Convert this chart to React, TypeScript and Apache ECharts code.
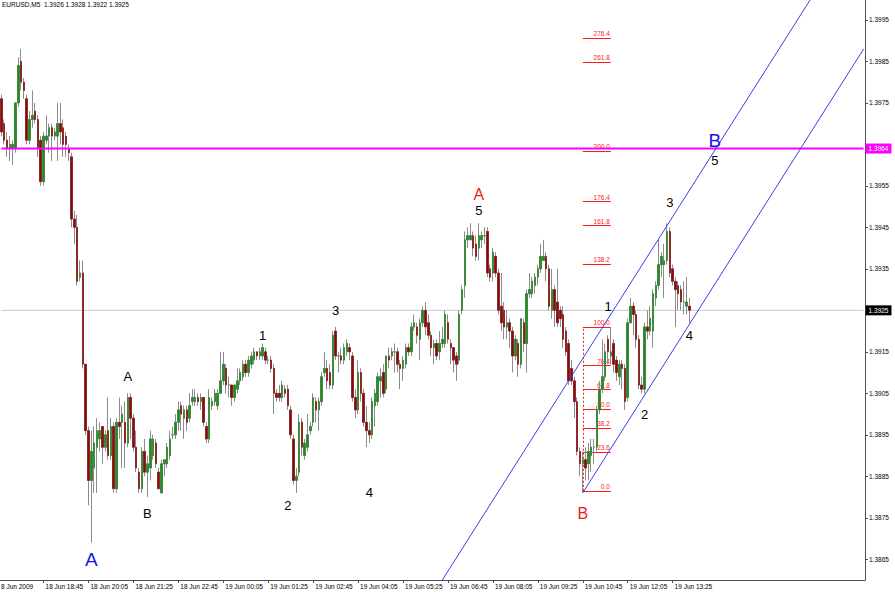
import React, { useEffect, useRef } from "react";
import * as echarts from "echarts";

// ---------- data ----------
const symbolName = "EURUSD,M5";
const firstDateLabel = "8 Jun 2009";
const startDay = 18;
const startMinute = 17 * 60 + 30; // first bar 18 Jun 17:30
const barMinutes = 5;
const totalSlots = 308; // bars + empty right shift area
const firstLabeledBar = 15;
const labelEvery = 16;
const lastLabeledBar = 239;

// candles: [open, high, low, close]
const candles: number[][] = [
  [1.3976, 1.3977, 1.3967, 1.3968], [1.3970, 1.3971, 1.3965, 1.3966], [1.3966, 1.3968, 1.3962, 1.3964],
  [1.3964, 1.3967, 1.3961, 1.3965], [1.3964, 1.3966, 1.3960, 1.3965], [1.3964, 1.3975, 1.3963, 1.3975],
  [1.3975, 1.3986, 1.3974, 1.3984], [1.3985, 1.3988, 1.3978, 1.3980], [1.3980, 1.3981, 1.3976, 1.3978],
  [1.3976, 1.3977, 1.3965, 1.3966], [1.3966, 1.3973, 1.3965, 1.3971], [1.3971, 1.3978, 1.3969, 1.3972],
  [1.3973, 1.3975, 1.3970, 1.3971], [1.3971, 1.3972, 1.3962, 1.3964], [1.3966, 1.3967, 1.3955, 1.3956],
  [1.3956, 1.3968, 1.3955, 1.3967], [1.3966, 1.3972, 1.3965, 1.3967], [1.3967, 1.3970, 1.3963, 1.3969],
  [1.3969, 1.3970, 1.3961, 1.3967], [1.3967, 1.3969, 1.3966, 1.3968], [1.3967, 1.3975, 1.3961, 1.3970],
  [1.3970, 1.3975, 1.3965, 1.3968], [1.3969, 1.3971, 1.3962, 1.3965], [1.3967, 1.3968, 1.3962, 1.3965],
  [1.3964, 1.3965, 1.3961, 1.3963], [1.3962, 1.3963, 1.3945, 1.3947], [1.3947, 1.3949, 1.3941, 1.3945],
  [1.3945, 1.3948, 1.3931, 1.3932], [1.3933, 1.3937, 1.3932, 1.3934], [1.3934, 1.3937, 1.3911, 1.3912],
  [1.3912, 1.3912, 1.3895, 1.3896], [1.3896, 1.3897, 1.3878, 1.3884], [1.3884, 1.3896, 1.3869, 1.3891],
  [1.3887, 1.3897, 1.3881, 1.3893], [1.3892, 1.3899, 1.3881, 1.3896], [1.3894, 1.3898, 1.3891, 1.3896],
  [1.3897, 1.3897, 1.3888, 1.3892], [1.3892, 1.3896, 1.3891, 1.3895], [1.3896, 1.3904, 1.3889, 1.3890],
  [1.3890, 1.3899, 1.3889, 1.3897], [1.3897, 1.3898, 1.3881, 1.3882], [1.3882, 1.3899, 1.3881, 1.3898],
  [1.3898, 1.3904, 1.3894, 1.3897], [1.3898, 1.3902, 1.3887, 1.3900], [1.3898, 1.3903, 1.3887, 1.3893],
  [1.3893, 1.3905, 1.3892, 1.3904], [1.3904, 1.3905, 1.3894, 1.3899], [1.3899, 1.3900, 1.3891, 1.3892],
  [1.3892, 1.3896, 1.3886, 1.3887], [1.3886, 1.3887, 1.3881, 1.3882], [1.3882, 1.3892, 1.3881, 1.3891],
  [1.3891, 1.3894, 1.3885, 1.3886], [1.3886, 1.3890, 1.3880, 1.3888], [1.3887, 1.3896, 1.3884, 1.3894],
  [1.3890, 1.3895, 1.3889, 1.3894], [1.3893, 1.3894, 1.3887, 1.3888], [1.3886, 1.3887, 1.3882, 1.3882],
  [1.3881, 1.3889, 1.3881, 1.3888], [1.3888, 1.3889, 1.3885, 1.3889], [1.3888, 1.3893, 1.3887, 1.3892],
  [1.3890, 1.3896, 1.3889, 1.3894], [1.3895, 1.3897, 1.3894, 1.3895], [1.3895, 1.3900, 1.3894, 1.3898],
  [1.3898, 1.3903, 1.3896, 1.3901], [1.3902, 1.3903, 1.3896, 1.3900], [1.3899, 1.3902, 1.3894, 1.3901],
  [1.3901, 1.3902, 1.3896, 1.3898], [1.3899, 1.3905, 1.3898, 1.3902], [1.3903, 1.3906, 1.3902, 1.3904],
  [1.3903, 1.3906, 1.3902, 1.3904], [1.3904, 1.3905, 1.3902, 1.3903], [1.3903, 1.3905, 1.3901, 1.3904],
  [1.3904, 1.3904, 1.3897, 1.3898], [1.3897, 1.3898, 1.3893, 1.3894], [1.3894, 1.3906, 1.3893, 1.3904],
  [1.3902, 1.3904, 1.3901, 1.3903], [1.3903, 1.3906, 1.3902, 1.3905], [1.3902, 1.3906, 1.3901, 1.3905],
  [1.3905, 1.3915, 1.3905, 1.3908], [1.3908, 1.3915, 1.3907, 1.3912], [1.3911, 1.3912, 1.3905, 1.3907],
  [1.3907, 1.3909, 1.3904, 1.3907], [1.3907, 1.3907, 1.3902, 1.3904], [1.3904, 1.3907, 1.3903, 1.3907],
  [1.3906, 1.3911, 1.3905, 1.3908], [1.3908, 1.3911, 1.3907, 1.3910], [1.3909, 1.3913, 1.3908, 1.3912],
  [1.3912, 1.3913, 1.3909, 1.3910], [1.3910, 1.3914, 1.3909, 1.3913], [1.3912, 1.3915, 1.3911, 1.3914],
  [1.3913, 1.3916, 1.3912, 1.3915], [1.3915, 1.3915, 1.3913, 1.3914], [1.3914, 1.3916, 1.3913, 1.3915],
  [1.3914, 1.3917, 1.3913, 1.3916], [1.3915, 1.3916, 1.3912, 1.3913], [1.3913, 1.3914, 1.3912, 1.3913],
  [1.3913, 1.3914, 1.3910, 1.3911], [1.3911, 1.3912, 1.3900, 1.3905], [1.3905, 1.3906, 1.3903, 1.3904],
  [1.3905, 1.3907, 1.3903, 1.3904], [1.3904, 1.3908, 1.3903, 1.3907], [1.3906, 1.3907, 1.3904, 1.3905],
  [1.3906, 1.3907, 1.3901, 1.3902], [1.3901, 1.3902, 1.3894, 1.3895], [1.3894, 1.3895, 1.3883, 1.3884],
  [1.3884, 1.3887, 1.3881, 1.3885], [1.3886, 1.3900, 1.3885, 1.3898], [1.3898, 1.3899, 1.3890, 1.3892],
  [1.3890, 1.3894, 1.3889, 1.3893], [1.3892, 1.3900, 1.3891, 1.3895], [1.3896, 1.3898, 1.3895, 1.3897],
  [1.3898, 1.3905, 1.3897, 1.3904], [1.3903, 1.3904, 1.3898, 1.3901], [1.3901, 1.3904, 1.3896, 1.3903],
  [1.3903, 1.3910, 1.3902, 1.3909], [1.3910, 1.3915, 1.3909, 1.3911], [1.3911, 1.3913, 1.3906, 1.3908],
  [1.3910, 1.3912, 1.3906, 1.3907], [1.3907, 1.3920, 1.3906, 1.3919], [1.3920, 1.3921, 1.3913, 1.3914],
  [1.3914, 1.3915, 1.3910, 1.3914], [1.3914, 1.3916, 1.3912, 1.3913], [1.3913, 1.3917, 1.3912, 1.3916],
  [1.3915, 1.3918, 1.3914, 1.3917], [1.3916, 1.3917, 1.3913, 1.3915], [1.3914, 1.3915, 1.3903, 1.3904],
  [1.3904, 1.3906, 1.3899, 1.3901], [1.3901, 1.3913, 1.3900, 1.3910], [1.3910, 1.3911, 1.3903, 1.3905],
  [1.3905, 1.3906, 1.3897, 1.3898], [1.3898, 1.3902, 1.3892, 1.3896], [1.3896, 1.3898, 1.3893, 1.3895],
  [1.3895, 1.3904, 1.3894, 1.3903], [1.3902, 1.3906, 1.3897, 1.3905], [1.3903, 1.3910, 1.3902, 1.3909],
  [1.3908, 1.3911, 1.3904, 1.3909], [1.3910, 1.3912, 1.3904, 1.3905], [1.3906, 1.3914, 1.3905, 1.3914],
  [1.3914, 1.3916, 1.3911, 1.3913], [1.3914, 1.3916, 1.3913, 1.3915], [1.3915, 1.3917, 1.3910, 1.3915],
  [1.3915, 1.3916, 1.3910, 1.3912], [1.3912, 1.3913, 1.3906, 1.3911], [1.3911, 1.3914, 1.3908, 1.3913],
  [1.3912, 1.3917, 1.3911, 1.3916], [1.3916, 1.3917, 1.3914, 1.3915], [1.3915, 1.3922, 1.3914, 1.3921],
  [1.3921, 1.3924, 1.3920, 1.3922], [1.3921, 1.3922, 1.3917, 1.3919], [1.3918, 1.3923, 1.3913, 1.3922],
  [1.3922, 1.3926, 1.3921, 1.3925], [1.3925, 1.3927, 1.3919, 1.3921], [1.3922, 1.3924, 1.3918, 1.3919],
  [1.3919, 1.3920, 1.3914, 1.3916], [1.3916, 1.3918, 1.3912, 1.3917], [1.3917, 1.3918, 1.3913, 1.3914],
  [1.3915, 1.3920, 1.3913, 1.3917], [1.3917, 1.3921, 1.3916, 1.3918], [1.3917, 1.3925, 1.3916, 1.3924],
  [1.3922, 1.3924, 1.3917, 1.3918], [1.3917, 1.3918, 1.3912, 1.3916], [1.3916, 1.3916, 1.3910, 1.3913],
  [1.3914, 1.3915, 1.3908, 1.3912], [1.3913, 1.3925, 1.3912, 1.3924], [1.3925, 1.3931, 1.3924, 1.3930],
  [1.3931, 1.3944, 1.3928, 1.3942], [1.3942, 1.3945, 1.3940, 1.3943], [1.3942, 1.3946, 1.3942, 1.3943],
  [1.3943, 1.3944, 1.3938, 1.3940], [1.3941, 1.3943, 1.3937, 1.3938], [1.3940, 1.3946, 1.3937, 1.3943],
  [1.3942, 1.3944, 1.3940, 1.3943], [1.3943, 1.3945, 1.3941, 1.3943], [1.3944, 1.3945, 1.3933, 1.3934],
  [1.3935, 1.3936, 1.3932, 1.3933], [1.3934, 1.3940, 1.3932, 1.3939], [1.3938, 1.3939, 1.3933, 1.3934],
  [1.3934, 1.3935, 1.3924, 1.3925], [1.3926, 1.3934, 1.3920, 1.3922], [1.3925, 1.3927, 1.3918, 1.3921],
  [1.3921, 1.3925, 1.3918, 1.3922], [1.3922, 1.3923, 1.3916, 1.3920], [1.3920, 1.3921, 1.3910, 1.3914],
  [1.3914, 1.3919, 1.3913, 1.3918], [1.3917, 1.3918, 1.3909, 1.3912], [1.3912, 1.3923, 1.3911, 1.3923],
  [1.3922, 1.3923, 1.3915, 1.3917], [1.3917, 1.3930, 1.3910, 1.3929], [1.3929, 1.3934, 1.3928, 1.3930],
  [1.3929, 1.3933, 1.3928, 1.3932], [1.3931, 1.3934, 1.3929, 1.3933], [1.3933, 1.3936, 1.3931, 1.3935],
  [1.3935, 1.3941, 1.3934, 1.3938], [1.3937, 1.3942, 1.3937, 1.3938], [1.3938, 1.3939, 1.3932, 1.3935],
  [1.3935, 1.3936, 1.3925, 1.3926], [1.3925, 1.3935, 1.3923, 1.3930], [1.3930, 1.3931, 1.3921, 1.3925],
  [1.3927, 1.3935, 1.3921, 1.3922], [1.3925, 1.3926, 1.3921, 1.3923], [1.3924, 1.3926, 1.3916, 1.3918],
  [1.3920, 1.3921, 1.3914, 1.3915], [1.3917, 1.3918, 1.3907, 1.3908], [1.3911, 1.3913, 1.3907, 1.3908],
  [1.3908, 1.3909, 1.3899, 1.3903], [1.3903, 1.3904, 1.3890, 1.3891], [1.3891, 1.3892, 1.3885, 1.3888],
  [1.3888, 1.3891, 1.3881, 1.3889], [1.3889, 1.3892, 1.3884, 1.3887], [1.3888, 1.3893, 1.3884, 1.3891],
  [1.3890, 1.3894, 1.3886, 1.3892], [1.3892, 1.3894, 1.3888, 1.3892], [1.3892, 1.3902, 1.3891, 1.3901],
  [1.3901, 1.3908, 1.3900, 1.3906], [1.3906, 1.3918, 1.3905, 1.3909], [1.3909, 1.3917, 1.3908, 1.3915],
  [1.3918, 1.3919, 1.3912, 1.3915], [1.3914, 1.3921, 1.3912, 1.3915], [1.3917, 1.3918, 1.3910, 1.3912],
  [1.3913, 1.3914, 1.3908, 1.3910], [1.3909, 1.3913, 1.3907, 1.3912], [1.3912, 1.3913, 1.3906, 1.3911],
  [1.3911, 1.3912, 1.3901, 1.3903], [1.3904, 1.3923, 1.3903, 1.3922], [1.3922, 1.3928, 1.3922, 1.3926],
  [1.3926, 1.3927, 1.3919, 1.3924], [1.3924, 1.3925, 1.3916, 1.3918], [1.3918, 1.3919, 1.3906, 1.3907],
  [1.3907, 1.3909, 1.3905, 1.3906], [1.3906, 1.3922, 1.3905, 1.3921], [1.3921, 1.3925, 1.3918, 1.3920],
  [1.3920, 1.3926, 1.3919, 1.3923], [1.3920, 1.3930, 1.3916, 1.3929], [1.3928, 1.3932, 1.3926, 1.3931],
  [1.3931, 1.3942, 1.3930, 1.3936], [1.3936, 1.3939, 1.3933, 1.3938], [1.3936, 1.3941, 1.3928, 1.3937],
  [1.3937, 1.3946, 1.3936, 1.3944], [1.3944, 1.3945, 1.3933, 1.3934], [1.3935, 1.3936, 1.3931, 1.3932],
  [1.3932, 1.3933, 1.3921, 1.3930], [1.3931, 1.3932, 1.3925, 1.3929], [1.3930, 1.3931, 1.3925, 1.3927],
  [1.3927, 1.3932, 1.3924, 1.3927], [1.3926, 1.3933, 1.3924, 1.3927], [1.3926, 1.3928, 1.3922, 1.3925],
];

const yTickValues = [1.3865, 1.3875, 1.3885, 1.3895, 1.3905, 1.3915, 1.3925, 1.3935, 1.3945, 1.3955, 1.3965, 1.3975, 1.3985, 1.3995];
const yLabelValues = [1.3865, 1.3875, 1.3885, 1.3895, 1.3905, 1.3915, 1.3935, 1.3945, 1.3955, 1.3975, 1.3985, 1.3995];
const yMin = 1.386;
const yMax = 1.39998;

const resistanceLevel = 1.3964;

// Fibonacci retracement/extension (ratio of the 0..100 swing, shown label)
const fibLow = 1.38815;
const fibHigh = 1.3921;
const fibStartBar = 207;
const fibEndBar = 217;
const fibRatios = [0, 0.236, 0.382, 0.5, 0.618, 0.764, 1.0, 1.382, 1.618, 1.764, 2.073, 2.618, 2.764];
const fibLabels = ["0.0", "23.6", "38.2", "50.0", "61.8", "76.4", "100.0", "138.2", "161.8", "176.4", "200.0", "261.8", "276.4"];

// Channel lines [barIndex, price]
const channelUpper = [[157, 1.386], [290, 1.4002]];
const channelLower = [[207, 1.3881], [307, 1.3988]];

// Wave labels [text, barIndex, price]
const blackWaveLabels: [string, number, number][] = [
  ["A", 45, 1.3909], ["B", 52, 1.3876], ["1", 93, 1.3919], ["2", 102, 1.3878], ["3", 119, 1.3925],
  ["4", 131, 1.3881], ["5", 170, 1.3949], ["1", 216, 1.3926], ["2", 229, 1.3900], ["3", 238, 1.3951],
  ["4", 245, 1.3919], ["5", 254, 1.3961],
];
const redWaveLabels: [string, number, number][] = [["A", 170, 1.3953], ["B", 207, 1.3876]];
const blueWaveLabels: [string, number, number][] = [["A", 32, 1.3865], ["B", 254, 1.3966]];

// ---------- helpers ----------
const FONT = "Liberation Sans";
const pad2 = (n: number) => (n < 10 ? "0" + n : String(n));
const categories: string[] = [];
for (let i = 0; i < totalSlots; i++) {
  const t = startMinute + i * barMinutes;
  const day = startDay + Math.floor(t / 1440);
  const m = t % 1440;
  categories.push(`${day} Jun ${pad2(Math.floor(m / 60))}:${pad2(m % 60)}`);
}
const showTick = (i: number) => i >= firstLabeledBar && i <= lastLabeledBar && (i - firstLabeledBar) % labelEvery === 0;

export default function App() {
  const ref = useRef<HTMLDivElement>(null);
  useEffect(() => {
    if (!ref.current) return;
    const chart = echarts.init(ref.current, undefined, { renderer: "svg" });
    const last = candles[candles.length - 1];
    const lastClose = last[3];
    const fibPrice = (r: number) => fibLow + (fibHigh - fibLow) * r;
    const fibRed = "#ff1a1a";
    const lastSlot = totalSlots - 1;

    const hLine = (name: string, level: number, color: string, width: number, labelBg: string) => ({
      type: "line",
      name,
      data: [[0, level], [lastSlot, level]],
      symbol: "none",
      silent: true,
      z: 4,
      lineStyle: { color, width, type: "solid" },
      endLabel: {
        show: true,
        formatter: level.toFixed(4),
        backgroundColor: labelBg,
        color: "#ffffff",
        fontSize: 6.5,
        fontFamily: FONT,
        padding: [2, 3, 1, 3],
        distance: 2,
      },
    });

    const option: any = {
      animation: false,
      backgroundColor: "#ffffff",
      textStyle: { fontFamily: FONT },
      grid: { left: 0, top: 0, right: 30, bottom: 12, containLabel: false, outerBoundsMode: "none" },
      xAxis: {
        type: "category",
        data: categories,
        boundaryGap: true,
        axisLine: { show: true, lineStyle: { color: "#505050", width: 1 } },
        axisTick: { show: true, alignWithLabel: true, length: 3, interval: (i: number) => showTick(i), lineStyle: { color: "#505050" } },
        axisLabel: {
          interval: (i: number) => showTick(i),
          align: "left",
          fontSize: 6.5,
          color: "#000",
          margin: 3,
          padding: [0, 0, 0, 2],
          fontFamily: FONT,
        },
        splitLine: { show: false },
      },
      yAxis: {
        type: "value",
        position: "right",
        min: yMin,
        max: yMax,
        axisLine: { show: true, lineStyle: { color: "#505050", width: 1 } },
        axisTick: { show: true, length: 3, customValues: yTickValues, lineStyle: { color: "#505050" } },
        axisLabel: {
          customValues: yLabelValues,
          formatter: (v: number) => v.toFixed(4),
          fontSize: 6.5,
          color: "#000",
          margin: 4,
          fontFamily: FONT,
        },
        splitLine: { show: false },
      },
      series: [
        hLine("lastPrice", lastClose, "#c8c8c8", 1, "#000000"),
        {
          type: "candlestick",
          name: "wick",
          barWidth: 2,
          z: 5,
          data: candles.map(([o, h, l, c]) => [o, c, l, h]),
          itemStyle: { color: "#8c8c8c", color0: "#8c8c8c", borderColor: "#8c8c8c", borderColor0: "#8c8c8c", borderWidth: 1 },
          silent: true,
        },
        {
          type: "candlestick",
          name: "body",
          barWidth: 2,
          z: 6,
          data: candles.map(([o, h, l, c]) => [o, c, Math.min(o, c), Math.max(o, c)]),
          itemStyle: { color: "#258a25", color0: "#8b0a0a", borderColor: "#258a25", borderColor0: "#8b0a0a", borderWidth: 0.5 },
          silent: true,
        },
        { ...hLine("resistance", resistanceLevel, "#ff00ff", 2, "#ff00ff"), z: 7 },
        {
          type: "line",
          name: "channelUpper",
          data: channelUpper,
          symbol: "none",
          clip: true,
          silent: true,
          z: 7,
          lineStyle: { color: "#3c3cf0", width: 1 },
        },
        {
          type: "line",
          name: "channelLower",
          data: channelLower,
          symbol: "none",
          clip: true,
          silent: true,
          z: 7,
          lineStyle: { color: "#3c3cf0", width: 1 },
        },
        {
          type: "line",
          name: "fibo",
          data: [],
          symbol: "none",
          silent: true,
          z: 8,
          markLine: {
            silent: true,
            symbol: ["none", "none"],
            label: { show: false },
            data: [
              [
                { coord: [fibStartBar, fibLow], lineStyle: { color: fibRed, width: 1, type: [2, 2] }, label: { show: false } },
                { coord: [fibStartBar, fibHigh], label: { show: false } },
              ],
              ...fibRatios.map((r, k) => [
                {
                  coord: [fibStartBar, fibPrice(r)],
                  lineStyle: { color: fibRed, width: 1, type: "solid" },
                  label: { show: true, position: "insideEndTop", formatter: fibLabels[k], color: fibRed, fontSize: 6.5, distance: 1, fontFamily: FONT },
                },
                { coord: [fibEndBar, fibPrice(r)] },
              ]),
            ],
          },
        },
      ],
    };
    chart.setOption(option);

    const toPx = (i: number, p: number) => chart.convertToPixel({ xAxisIndex: 0, yAxisIndex: 0 }, [i, p]) as number[];
    const waveText = (items: [string, number, number][], color: string, size: number) =>
      items.map(([t, i, p]) => {
        const [x, y] = toPx(i, p);
        return {
          type: "text",
          x,
          y,
          z: 100,
          silent: true,
          style: { text: t, fill: color, fontSize: size, fontFamily: FONT, align: "center", verticalAlign: "middle" },
        };
      });

    chart.setOption({
      graphic: {
        elements: [
          { type: "text", left: 2, top: 1, silent: true, style: { text: `${symbolName}  ${last[0].toFixed(4)} ${last[1].toFixed(4)} ${last[2].toFixed(4)} ${last[3].toFixed(4)}`, fontSize: 6.5, fill: "#000", fontFamily: FONT } },
          { type: "text", x: 1, y: 583, silent: true, style: { text: firstDateLabel, fontSize: 6.5, fill: "#000", fontFamily: FONT } },
          ...waveText(blackWaveLabels, "#000000", 13),
          ...waveText(redWaveLabels, "#ee1c1c", 16),
          ...waveText(blueWaveLabels, "#1414e6", 19),
        ],
      },
    });
    return () => chart.dispose();
  }, []);
  return <div ref={ref} style={{ position: "fixed", left: 0, top: 0, width: 895, height: 592, background: "#fff" }} />;
}
